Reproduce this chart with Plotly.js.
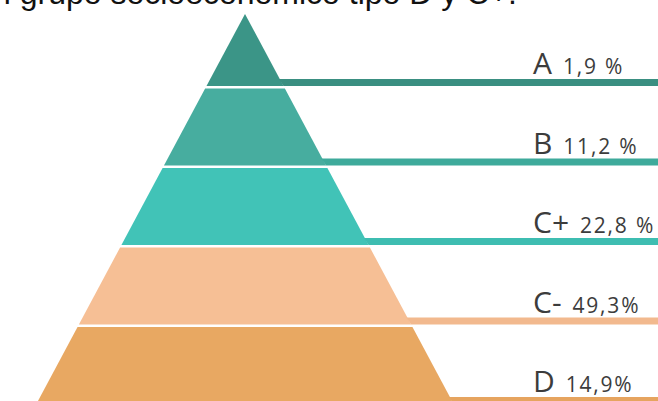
<!DOCTYPE html>
<html>
<head>
<meta charset="utf-8">
<script src="https://cdn.plot.ly/plotly-3.0.1.min.js"></script>
<style>html,body{margin:0;padding:0;background:#fff;}#chart{width:658px;height:401px;}</style>
</head>
<body>
<div id="chart"></div>
<script>
// ---- data ----
const categories = ['A', 'B', 'C+', 'C-', 'D'];
const shares = [1.9, 11.2, 22.8, 49.3, 14.9];
const shareLabels = ['1,9 %', '11,2 %', '22,8 %', '49,3%', '14,9%'];
const headline = 'n grupo socioeconómico tipo D y C+.';

// ---- styles ----
const layerColors = ['#3b9587', '#47ad9f', '#41c3b7', '#f6bf95', '#e8a862'];
const barColors   = ['#3a8f81', '#3eaa9b', '#3ebdb1', '#f2b98e', '#e6a45f'];

// ---- geometry (pixel-like axis units, y grows downward) ----
const W = 658, H = 401;
const apexX = 245, apexY = 14, slope = 0.535;
const firstBottom = 86, layerStep = 79.5, gap = 2.5, barThick = 7;
const labelX = 531;

const traces = [];
const annotations = [];
categories.forEach((cat, i) => {
  const bottom = firstBottom + i * layerStep;
  const top = i === 0 ? apexY : firstBottom + (i - 1) * layerStep + gap;
  const hw = y => (y - apexY) * slope;
  traces.push({
    type: 'scatter', mode: 'lines', fill: 'toself', hoverinfo: 'skip',
    x: [apexX - hw(top), apexX + hw(top), apexX + hw(bottom), apexX - hw(bottom), apexX - hw(top)],
    y: [top, top, bottom, bottom, top],
    line: {width: 0, color: layerColors[i]}, fillcolor: layerColors[i], showlegend: false
  });
  const bx0 = apexX + hw(bottom - barThick) - 1;
  traces.push({
    type: 'scatter', mode: 'lines', fill: 'toself', hoverinfo: 'skip',
    x: [bx0, W + 5, W + 5, apexX + hw(bottom), bx0],
    y: [bottom - barThick, bottom - barThick, bottom, bottom, bottom - barThick],
    line: {width: 0, color: barColors[i]}, fillcolor: barColors[i], showlegend: false
  });
  annotations.push({
    xref: 'x', yref: 'y', x: labelX, y: bottom - barThick - 1,
    xanchor: 'left', yanchor: 'bottom', yshift: -7, showarrow: false,
    text: '<span style="font-size:30px">' + cat + '</span>  ' +
          '<span style="letter-spacing:1.8px">' + shareLabels[i] + '</span>',
    font: {family: 'Open Sans, DejaVu Sans, sans-serif', size: 21, color: '#3c3c3c'}
  });
});

annotations.push({
  xref: 'paper', yref: 'paper', x: 0, y: 1, xanchor: 'left', yanchor: 'bottom',
  xshift: -9, yshift: -13,
  showarrow: false, text: headline,
  font: {family: 'Liberation Sans, Arial, sans-serif', size: 32, color: '#111111'}
});

Plotly.newPlot('chart', traces, {
  width: W, height: H,
  margin: {l: 0, r: 0, t: 0, b: 0},
  paper_bgcolor: '#ffffff', plot_bgcolor: '#ffffff',
  xaxis: {range: [0, W], visible: false, fixedrange: true},
  yaxis: {range: [H, 0], visible: false, fixedrange: true},
  annotations: annotations,
  showlegend: false
}, {displayModeBar: false, staticPlot: true});
</script>
</body>
</html>
